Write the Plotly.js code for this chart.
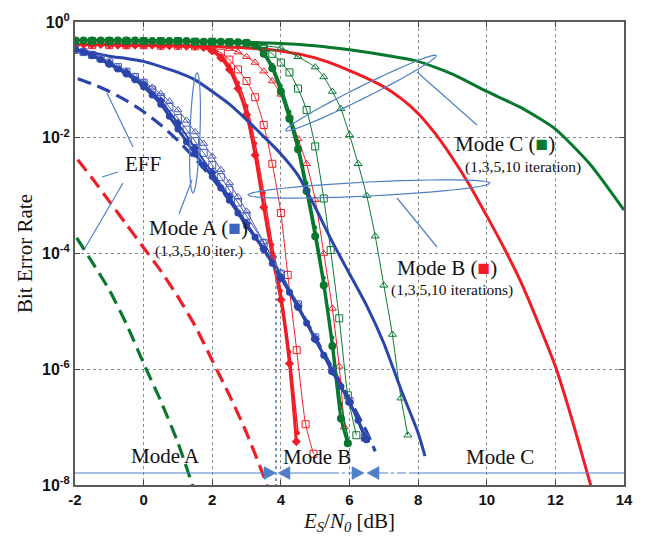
<!DOCTYPE html>
<html><head><meta charset="utf-8">
<script src="https://cdn.plot.ly/plotly-3.0.1.min.js"></script>
<style>html,body{margin:0;padding:0;background:#fff}#chart{width:649px;height:544px}</style>
</head><body><div id="chart"></div>
<script>
// ---------------- DATA (x in dB, y as log10(BER)) ----------------
const xTickVals = [-2, 0, 2, 4, 6, 8, 10, 12, 14];
const xTickText = ['-2', '0', '2', '4', '6', '8', '10', '12', '14'];
const yTickVals = [1, 1e-2, 1e-4, 1e-6, 1e-8];
const yTickText = ['10<sup>0</sup>', '10<sup>-2</sup>', '10<sup>-4</sup>', '10<sup>-6</sup>', '10<sup>-8</sup>'];

// Mode A (blue)
const effA_x   = [-1.92,-1.5,-1,-0.5,0,0.5,1,1.5,2,2.5,3,3.5,4,4.5,5,5.5,6,6.5,6.75];
const effA_log = [-0.98,-1.07,-1.2,-1.36,-1.55,-1.78,-2.05,-2.36,-2.7,-3.08,-3.5,-3.93,-4.4,-4.9,-5.45,-5.98,-6.52,-7.08,-7.42];
const uncA_x   = [-2,-1.5,-1,-0.5,0,0.5,1,1.5,2,2.5,3,3.5,4,4.5,5,5.5,6,6.5,7,7.5,8,8.2];
const uncA_log = [-0.48,-0.53,-0.59,-0.63,-0.68,-0.77,-0.87,-1.0,-1.2,-1.42,-1.69,-1.98,-2.28,-2.65,-3.2,-3.8,-4.35,-4.9,-5.55,-6.35,-7.1,-7.5];
const A10_x   = [-2,-1.75,-1.5,-1.25,-1,-0.75,-0.5,-0.25,0,0.25,0.5,0.75,1,1.25,1.5,1.75,2,2.25,2.5,2.75,3,3.25,3.5,3.75,4,4.25,4.5,4.75,5,5.25,5.5,5.75,6,6.25,6.5];
const A10_log = [-0.48,-0.52,-0.58,-0.65,-0.73,-0.81,-0.9,-1.0,-1.12,-1.26,-1.42,-1.63,-1.85,-2.07,-2.28,-2.48,-2.67,-2.87,-3.08,-3.3,-3.52,-3.72,-3.93,-4.17,-4.42,-4.67,-4.93,-5.2,-5.48,-5.76,-6.04,-6.3,-6.57,-6.88,-7.22];
const A5_x   = [-2,-1.5,-1,-0.5,0,0.5,1,1.5,2,2.5,3,3.5,4,4.5,5,5.5,6,6.45];
const A5_log = [-0.48,-0.57,-0.71,-0.88,-1.08,-1.36,-1.75,-2.18,-2.6,-3.02,-3.48,-3.92,-4.42,-4.92,-5.48,-6.04,-6.57,-7.2];
const A3_x   = [-2,-1.75,-1.5,-1.25,-1,-0.75,-0.5,-0.25,0,0.25,0.5,0.75,1,1.25,1.5,1.75,2,2.25,2.5,2.75,3,3.5,4,4.5,5,5.5,6,6.45];
const A3_log = [-0.48,-0.52,-0.57,-0.63,-0.7,-0.78,-0.86,-0.95,-1.05,-1.17,-1.3,-1.47,-1.66,-1.86,-2.06,-2.26,-2.47,-2.68,-2.9,-3.12,-3.35,-3.82,-4.35,-4.88,-5.45,-6.02,-6.55,-7.18];
const A1_x   = [-2,-1.75,-1.5,-1.25,-1,-0.75,-0.5,-0.25,0,0.25,0.5,0.75,1,1.25,1.5,1.75,2,2.25,2.5,2.75,3,3.5,4,4.5,5,5.5,6,6.45];
const A1_log = [-0.48,-0.52,-0.57,-0.63,-0.7,-0.77,-0.85,-0.94,-1.03,-1.13,-1.24,-1.37,-1.52,-1.7,-1.9,-2.1,-2.32,-2.55,-2.78,-3.02,-3.27,-3.8,-4.33,-4.87,-5.44,-6.0,-6.54,-7.16];

// Mode B (red)
const effB_x   = [-1.92,-1.5,-1,-0.5,0,0.5,1,1.5,2,2.5,3,3.5,3.62];
const effB_log = [-2.38,-2.7,-3.1,-3.5,-3.9,-4.3,-4.75,-5.25,-5.85,-6.45,-7.1,-7.85,-8.05];
const uncB_x   = [-2,-1,0,1,2,3,4,5,5.5,6,6.5,7,7.5,8,8.5,9,9.5,10,10.5,11,11.5,12,12.5,13.05];
const uncB_log = [-0.39,-0.39,-0.4,-0.4,-0.42,-0.45,-0.5,-0.62,-0.72,-0.84,-0.97,-1.12,-1.32,-1.58,-1.93,-2.35,-2.82,-3.35,-3.9,-4.5,-5.2,-5.95,-6.9,-8.05];
const B10_x   = [-2,-1.75,-1.5,-1.25,-1,-0.75,-0.5,-0.25,0,0.25,0.5,0.75,1,1.25,1.5,1.75,2,2.25,2.5,2.75,3,3.25,3.5,3.75,4,4.25,4.45];
const B10_log = [-0.39,-0.39,-0.39,-0.39,-0.39,-0.4,-0.4,-0.4,-0.4,-0.4,-0.41,-0.41,-0.41,-0.42,-0.42,-0.44,-0.5,-0.62,-0.82,-1.15,-1.6,-2.3,-3.2,-4.05,-4.8,-5.9,-7.25];
const B5_x   = [-2,-1.5,-1,-0.5,0,0.5,1,1.5,2,2.25,2.5,2.75,3,3.25,3.5,3.75,4,4.25,4.5];
const B5_log = [-0.39,-0.39,-0.39,-0.4,-0.4,-0.4,-0.41,-0.42,-0.48,-0.58,-0.76,-1.05,-1.45,-2.1,-2.95,-3.85,-4.65,-5.7,-7.1];
const B3_x   = [-2,-1.5,-1,-0.5,0,0.5,1,1.5,2,2.25,2.5,2.75,3,3.25,3.5,3.75,4,4.2,4.46,4.72,4.95];
const B3_log = [-0.4,-0.4,-0.4,-0.4,-0.4,-0.41,-0.41,-0.42,-0.46,-0.53,-0.65,-0.82,-1.02,-1.3,-1.78,-2.45,-3.3,-4.37,-5.67,-6.95,-7.46];
const B1_x   = [-2,-1.5,-1,-0.5,0,0.5,1,1.5,2,2.5,2.75,3,3.25,3.5,3.75,4,4.25,4.5,4.75,5,5.25,5.5,5.7,5.85];
const B1_log = [-0.4,-0.4,-0.4,-0.4,-0.4,-0.41,-0.41,-0.42,-0.43,-0.46,-0.52,-0.6,-0.7,-0.85,-1.02,-1.25,-1.62,-2.02,-2.45,-3.07,-4.0,-4.95,-5.95,-7.0];

// Mode C (green)
const effC_x   = [-1.95,-1.5,-1,-0.5,0,0.5,1,1.45];
const effC_log = [-3.73,-4.15,-4.63,-5.22,-5.9,-6.55,-7.27,-8.05];
const uncC_x   = [-2,0,2,3,4,5,6,7,8,9,10,11,12,13,14];
const uncC_log = [-0.31,-0.32,-0.33,-0.35,-0.37,-0.41,-0.48,-0.57,-0.68,-0.9,-1.2,-1.48,-1.85,-2.45,-3.25];
const C10_x   = [-2,-1.75,-1.5,-1.25,-1,-0.75,-0.5,-0.25,0,0.25,0.5,0.75,1,1.25,1.5,1.75,2,2.25,2.5,2.75,3,3.25,3.5,3.75,4,4.25,4.5,4.75,5,5.25,5.5,5.75,5.95];
const C10_log = [-0.32,-0.32,-0.32,-0.32,-0.32,-0.32,-0.32,-0.32,-0.33,-0.33,-0.33,-0.33,-0.33,-0.33,-0.34,-0.34,-0.34,-0.34,-0.35,-0.35,-0.36,-0.4,-0.55,-0.8,-1.2,-1.67,-2.2,-2.92,-3.7,-4.55,-5.6,-6.85,-7.28];
const C5_x   = [-2,-1,0,1,2,3,3.25,3.5,3.75,4,4.25,4.5,4.75,5,5.25,5.5,5.75,6.0];
const C5_log = [-0.32,-0.32,-0.33,-0.33,-0.34,-0.36,-0.39,-0.52,-0.74,-1.1,-1.55,-2.08,-2.78,-3.55,-4.42,-5.45,-6.6,-7.3];
const C3_x   = [-2,-1.5,-1,-0.5,0,0.5,1,1.5,2,2.5,3,3.5,3.75,4,4.25,4.5,4.75,5,5.25,5.45,5.7,5.95,6.2];
const C3_log = [-0.33,-0.33,-0.33,-0.33,-0.33,-0.33,-0.33,-0.34,-0.34,-0.35,-0.37,-0.45,-0.55,-0.7,-0.87,-1.15,-1.52,-2.15,-3.05,-3.94,-5.12,-6.45,-7.14];
const C1_x   = [-2,-1.5,-1,-0.5,0,0.5,1,1.5,2,2.5,3,3.5,4,4.5,5,5.25,5.5,5.75,6,6.25,6.5,6.75,7,7.25,7.5,7.7];
const C1_log = [-0.34,-0.34,-0.34,-0.34,-0.34,-0.34,-0.34,-0.35,-0.35,-0.36,-0.38,-0.41,-0.45,-0.6,-0.78,-0.95,-1.2,-1.5,-1.95,-2.45,-3.0,-3.7,-4.55,-5.4,-6.5,-7.14];

// ---------------- STYLE ----------------
const BLUE = '#2a46ab', BLUE_L = '#4a5cb8', RED = '#f01c26', GREEN = '#08782f', ANN = '#4f80c6';
const ber = a => a.map(v => Math.pow(10, v));

function curve(x, lg, color, width, opts) {
  opts = opts || {};
  const t = {
    x: x, y: ber(lg), type: 'scatter', mode: opts.symbol ? 'lines+markers' : 'lines',
    line: {color: color, width: width, dash: opts.dash || 'solid', shape: 'spline', smoothing: 0.6},
    hoverinfo: 'skip', showlegend: false
  };
  if (opts.symbol) {
    t.marker = {symbol: opts.symbol, size: opts.size || 6, color: opts.open ? 'rgba(255,255,255,0)' : color,
                line: {color: color, width: opts.open ? 1 : 0}};
  }
  return t;
}

const traces = [
  curve(effA_x, effA_log, BLUE, 3.2, {dash: '14px,7px'}),
  curve(effB_x, effB_log, RED, 3.2, {dash: '14px,7px'}),
  curve(effC_x, effC_log, GREEN, 3.2, {dash: '14px,7px'}),
  curve(uncB_x, uncB_log, RED, 3),
  curve(uncC_x, uncC_log, GREEN, 3),
  curve(B1_x, B1_log, RED, 1, {symbol: 'triangle-up', open: true, size: 7}),
  curve(B3_x, B3_log, RED, 1, {symbol: 'square', open: true, size: 7}),
  curve(B5_x, B5_log, RED, 1.5, {symbol: 'circle', size: 4}),
  curve(B10_x, B10_log, RED, 3, {symbol: 'diamond', size: 7}),
  curve(C1_x, C1_log, GREEN, 1, {symbol: 'triangle-up', open: true, size: 7}),
  curve(C3_x, C3_log, GREEN, 1, {symbol: 'square', open: true, size: 7}),
  curve(C5_x, C5_log, GREEN, 1.5, {symbol: 'circle', size: 4}),
  curve(C10_x, C10_log, GREEN, 3, {symbol: 'circle', size: 8}),
  curve(uncA_x, uncA_log, BLUE, 3),
  curve(A1_x, A1_log, BLUE_L, 1, {symbol: 'triangle-up', open: true, size: 7}),
  curve(A3_x, A3_log, BLUE_L, 1, {symbol: 'square', open: true, size: 7}),
  curve(A5_x, A5_log, BLUE, 2, {symbol: 'diamond', size: 7}),
  curve(A10_x, A10_log, BLUE, 3, {symbol: 'circle', size: 7})
];

// ---------------- DECORATION (pixel -> paper) ----------------
const L = 75, T = 22, W = 549, H = 463;
const px = x => (x - L) / W;
const py = y => (T + H - y) / H;

function ellipse(cx, cy, a, b, angDeg) {
  const ang = angDeg * Math.PI / 180; let d = '';
  for (let i = 0; i <= 48; i++) {
    const t = i / 48 * 2 * Math.PI;
    const ex = a * Math.cos(t), ey = b * Math.sin(t);
    const X = cx + ex * Math.cos(ang) - ey * Math.sin(ang);
    const Y = cy + ex * Math.sin(ang) + ey * Math.cos(ang);
    d += (i ? ' L ' : 'M ') + px(X).toFixed(5) + ' ' + py(Y).toFixed(5);
  }
  return {type: 'path', xref: 'paper', yref: 'paper', path: d + ' Z', line: {color: ANN, width: 1.2}};
}
function seg(x0, y0, x1, y1, dash, w) {
  return {type: 'line', xref: 'paper', yref: 'paper', x0: px(x0), y0: py(y0), x1: px(x1), y1: py(y1),
          line: {color: ANN, width: w || 1.2, dash: dash || 'solid'}};
}
function arrow(tipX, y, dir) { // dir = +1 pointing right, -1 pointing left
  const bx = tipX - dir * 12;
  const d = 'M ' + px(tipX) + ' ' + py(y) + ' L ' + px(bx) + ' ' + py(y - 6.5) + ' L ' + px(bx) + ' ' + py(y + 6.5) + ' Z';
  return {type: 'path', xref: 'paper', yref: 'paper', path: d, fillcolor: ANN, line: {color: ANN, width: 0.5}};
}

const AY = 473;
const shapes = [
  ellipse(195, 133, 60, 5, 92),          // Mode A group
  ellipse(369, 189, 121, 7, -2.8),       // Mode B group
  ellipse(361, 93, 84, 6, -26.5),        // Mode C group
  seg(192, 180, 179, 214),               // Mode A leader
  seg(397, 198, 437, 247),               // Mode B leader
  seg(417, 72, 477, 125),                // Mode C leader
  seg(133, 147, 107, 93),                // EFF -> blue
  seg(118, 172, 102, 177),               // EFF -> red
  seg(123, 183, 85, 248),                // EFF -> green
  seg(276, 256, 276, 485, 'dot', 1.5),   // threshold A/B
  seg(75, AY, 264, AY),
  arrow(276, AY, 1),
  arrow(278, AY, -1),
  seg(290, AY, 330, AY),
  seg(330, AY, 352, AY, 'dashdot'),
  arrow(364, AY, 1),
  arrow(367, AY, -1),
  seg(379, AY, 410, AY, 'dashdot'),
  seg(410, AY, 624, AY)
];

const SERIF = 'Liberation Serif, Times New Roman, serif';
function txt(x, y, s, size, color) {
  return {xref: 'paper', yref: 'paper', x: px(x), y: py(y), text: s, showarrow: false,
          xanchor: 'center', yanchor: 'middle', font: {family: SERIF, size: size, color: color || '#111'}};
}
const sq = c => '<span style="color:' + c + '">■</span>';
const annotations = [
  txt(143, 164, 'EFF', 21),
  txt(198, 228, 'Mode A (' + sq('#3a66c2') + ')', 21),
  txt(199, 251, '(1,3,5,10 iter.)', 15.5),
  txt(447, 268, 'Mode B (' + sq(RED) + ')', 21),
  txt(452, 290, '(1,3,5,10 iterations)', 15.5),
  txt(505, 144, 'Mode C (' + sq(GREEN) + ')', 21),
  txt(523, 167, '(1,3,5,10 iteration)', 15.5),
  txt(165, 456, 'Mode A', 21),
  txt(317, 457, 'Mode B', 21),
  txt(500, 457, 'Mode C', 21)
];

const axisCommon = {
  showline: true, linecolor: '#5a5a5a', linewidth: 2, mirror: 'ticks',
  ticks: 'inside', ticklen: 5, tickcolor: '#444', tickwidth: 1,
  showgrid: true, gridcolor: '#8a8a8a', griddash: 'dot', gridwidth: 1,
  zeroline: false,
  tickfont: {family: 'Liberation Sans, Arial, sans-serif', size: 15, color: '#111', weight: 'bold'}
};

const layout = {
  width: 649, height: 544,
  margin: {l: L, r: 649 - L - W, t: T, b: 544 - T - H},
  paper_bgcolor: '#fff', plot_bgcolor: '#fff',
  showlegend: false,
  xaxis: Object.assign({}, axisCommon, {
    range: [-2, 14], tickvals: xTickVals, ticktext: xTickText,
    title: {text: '<i>E<sub>S</sub></i>/<i>N<sub>0</sub></i> [dB]', standoff: 6,
            font: {family: SERIF, size: 21, color: '#111'}}
  }),
  yaxis: Object.assign({}, axisCommon, {
    type: 'log', range: [-8, 0], tickvals: yTickVals, ticktext: yTickText,
    tickfont: {family: 'Liberation Sans, Arial, sans-serif', size: 16, color: '#111', weight: 'bold'},
    title: {text: 'Bit Error Rate', standoff: 4, font: {family: SERIF, size: 21, color: '#111'}}
  }),
  shapes: shapes,
  annotations: annotations
};

Plotly.newPlot('chart', traces, layout, {staticPlot: true, displayModeBar: false});
</script></body></html>
